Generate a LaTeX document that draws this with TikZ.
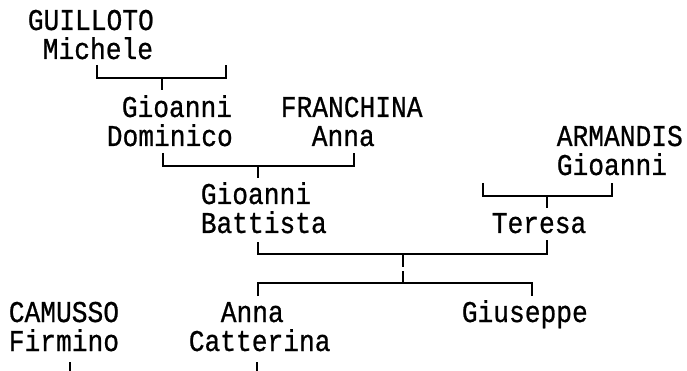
\documentclass[tikz,border=0pt]{standalone}
\usepackage{fontspec}
\setmonofont{Liberation Mono}[FakeBold=0.8]
\usepackage{tikz}

\newcommand{\tallname}[1]{\scalebox{1}[1.15]{#1}}

\begin{document}
\begin{tikzpicture}[x=1pt,y=-1pt,line width=1.6pt,
                    person/.style={anchor=base west,inner sep=0pt,
                                 text height=19pt,text depth=5pt,
                                 font=\ttfamily\fontsize{26.25}{29}\selectfont}]
	\useasboundingbox (0,0) rectangle (687,371);

	% names, one node per printed line
	\node[person] (guilloto)  at (27,30)  {\tallname{GUILLOTO}};
	\node[person] (michele)   at (42,59)  {\tallname{Michele}};
	\node[person] (gioanniA)  at (121,117) {\tallname{Gioanni}};
	\node[person] (franchina) at (280,117) {\tallname{FRANCHINA}};
	\node[person] (dominico)  at (106,146) {\tallname{Dominico}};
	\node[person] (annaA)     at (311,146) {\tallname{Anna}};
	\node[person] (armandis)  at (556,146) {\tallname{ARMANDIS}};
	\node[person] (gioanniB)  at (556,175) {\tallname{Gioanni}};
	\node[person] (gioanniC)  at (200,204) {\tallname{Gioanni}};
	\node[person] (battista)  at (200,233) {\tallname{Battista}};
	\node[person] (teresa)    at (491,233) {\tallname{Teresa}};
	\node[person] (camusso)   at (8,322)   {\tallname{CAMUSSO}};
	\node[person] (annaB)     at (220,322) {\tallname{Anna}};
	\node[person] (giuseppe)  at (461,322) {\tallname{Giuseppe}};
	\node[person] (firmino)   at (8,351)   {\tallname{Firmino}};
	\node[person] (catterina) at (188,351) {\tallname{Catterina}};

	% bracket ends
	\coordinate (mL) at (97,65);   \coordinate (mR) at (226,65);
	\coordinate (mBar) at (162,78); \coordinate (mDown) at (162,90);
	\coordinate (dL) at (163,153); \coordinate (dR) at (354,153);
	\coordinate (dBar) at (258,166); \coordinate (dDown) at (258,178);
	\coordinate (aL) at (483,183); \coordinate (aR) at (612,183);
	\coordinate (aBar) at (547,196); \coordinate (aDown) at (547,208);
	\coordinate (bL) at (258,242); \coordinate (bR) at (547,242);
	\coordinate (bBar) at (403,254); \coordinate (bGap) at (403,267);
	\coordinate (bGapEnd) at (403,271); \coordinate (kBar) at (403,283);
	\coordinate (kL) at (258,296); \coordinate (kR) at (532,296);
	\coordinate (fUp) at (70,362);  \coordinate (fDown) at (70,371);
	\coordinate (cUp) at (257,362); \coordinate (cDown) at (257,371);

	\draw (mL) |- (mBar) -| (mR);  \draw (mBar) -- (mDown);
	\draw (dL) |- (dBar) -| (dR);  \draw (dBar) -- (dDown);
	\draw (aL) |- (aBar) -| (aR);  \draw (aBar) -- (aDown);
	\draw (547,240) -- (bR);
	\draw (bL) |- (bBar) -| (bR);  \draw (bBar) -- (bGap);
	\draw (bGapEnd) -- (kBar);
	\draw (kL) |- (kBar) -| (kR);
	\draw (fUp) -- (fDown);
	\draw (cUp) -- (cDown);
\end{tikzpicture}
\end{document}
